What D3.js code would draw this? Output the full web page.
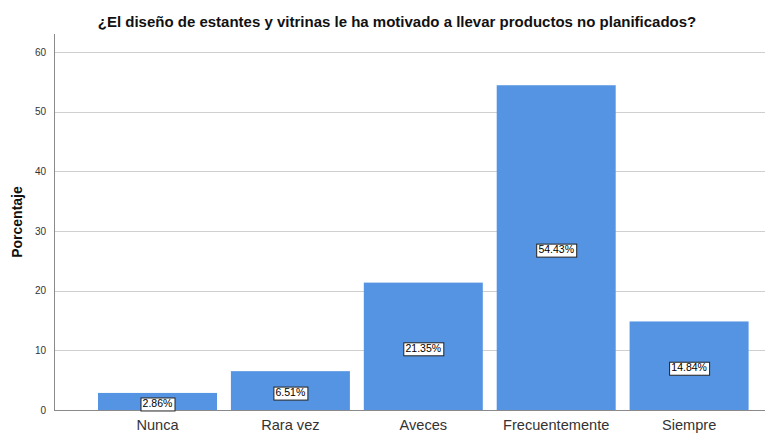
<!DOCTYPE html>
<html>
<head>
<meta charset="utf-8">
<script src="https://cdn.jsdelivr.net/npm/d3@7"></script>
<style>
  html, body { margin: 0; padding: 0; background: #fff; }
  svg { display: block; font-family: "Liberation Sans", Arial, sans-serif; }
</style>
</head>
<body>
<svg id="chart" width="780" height="433"></svg>
<script>
// Survey answers and the share of respondents for each
const categories = ["Nunca", "Rara vez", "Aveces", "Frecuentemente", "Siempre"];
const percentages = [2.86, 6.51, 21.35, 54.43, 14.84];
const yTicks = [0, 10, 20, 30, 40, 50, 60];
const titleText = "¿El diseño de estantes y vitrinas le ha motivado a llevar productos no planificados?";
const yAxisTitle = "Porcentaje";

const svg = d3.select("#chart");
const plot = { left: 54, right: 765, top: 34, bottom: 410 };

const y = d3.scaleLinear().domain([0, 60]).range([plot.bottom, 52]);
const x = d3.scaleBand()
  .domain(categories)
  .range([84.1, 762.5])
  .paddingInner(0.1046)
  .paddingOuter(0.1046);

// Title
svg.append("text")
  .attr("x", 397).attr("y", 27)
  .attr("text-anchor", "middle")
  .attr("font-size", 15).attr("font-weight", "bold")
  .attr("fill", "#111")
  .text(titleText);

// Horizontal gridlines
svg.append("g").selectAll("line")
  .data(yTicks.filter(d => d > 0))
  .join("line")
  .attr("x1", plot.left).attr("x2", plot.right)
  .attr("y1", d => Math.round(y(d)) + 0.5).attr("y2", d => Math.round(y(d)) + 0.5)
  .attr("stroke", "#cfcfcf").attr("stroke-width", 1);

// Bars
svg.append("g").selectAll("rect")
  .data(categories)
  .join("rect")
  .attr("x", d => x(d))
  .attr("width", x.bandwidth())
  .attr("y", (d, i) => y(percentages[i]))
  .attr("height", (d, i) => y(0) - y(percentages[i]))
  .attr("fill", "#5594e3");

// Axis lines
svg.append("line")
  .attr("x1", plot.left + 0.5).attr("x2", plot.left + 0.5)
  .attr("y1", plot.top).attr("y2", plot.bottom)
  .attr("stroke", "#8a8a8a");
svg.append("line")
  .attr("x1", plot.left).attr("x2", plot.right)
  .attr("y1", plot.bottom + 0.5).attr("y2", plot.bottom + 0.5)
  .attr("stroke", "#8a8a8a");

// Y tick labels
svg.append("g").selectAll("text")
  .data(yTicks)
  .join("text")
  .attr("x", 46).attr("y", d => y(d) + 3.5)
  .attr("text-anchor", "end")
  .attr("font-size", 10).attr("fill", "#333")
  .text(d => d);

// Y axis title
svg.append("text")
  .attr("transform", "translate(22,222) rotate(-90)")
  .attr("text-anchor", "middle")
  .attr("font-size", 14).attr("font-weight", "bold")
  .attr("fill", "#111")
  .text(yAxisTitle);

// Category labels
svg.append("g").selectAll("text")
  .data(categories)
  .join("text")
  .attr("x", d => x(d) + x.bandwidth() / 2)
  .attr("y", 430)
  .attr("text-anchor", "middle")
  .attr("font-size", 14.6).attr("fill", "#333")
  .text(d => d);

// Value labels in boxes at the middle of each bar
const labels = svg.append("g").selectAll("g")
  .data(categories)
  .join("g")
  .attr("transform", (d, i) => {
    const cx = x(d) + x.bandwidth() / 2;
    const cy = (y(percentages[i]) + y(0)) / 2 + 2;
    return `translate(${cx},${cy})`;
  });

labels.append("text")
  .attr("text-anchor", "middle")
  .attr("dy", "0.35em")
  .attr("font-size", 10.5).attr("fill", "#000")
  .text((d, i) => percentages[i].toFixed(2) + "%")
  .each(function () {
    const bb = this.getBBox();
    d3.select(this.parentNode).insert("rect", "text")
      .attr("x", Math.round(bb.x - 2) + 0.5)
      .attr("y", Math.round(bb.y) + 0.5)
      .attr("width", Math.round(bb.width + 4))
      .attr("height", Math.round(bb.height + 1))
      .attr("fill", "#fff")
      .attr("stroke", "#222").attr("stroke-width", 1);
  });
</script>
</body>
</html>
